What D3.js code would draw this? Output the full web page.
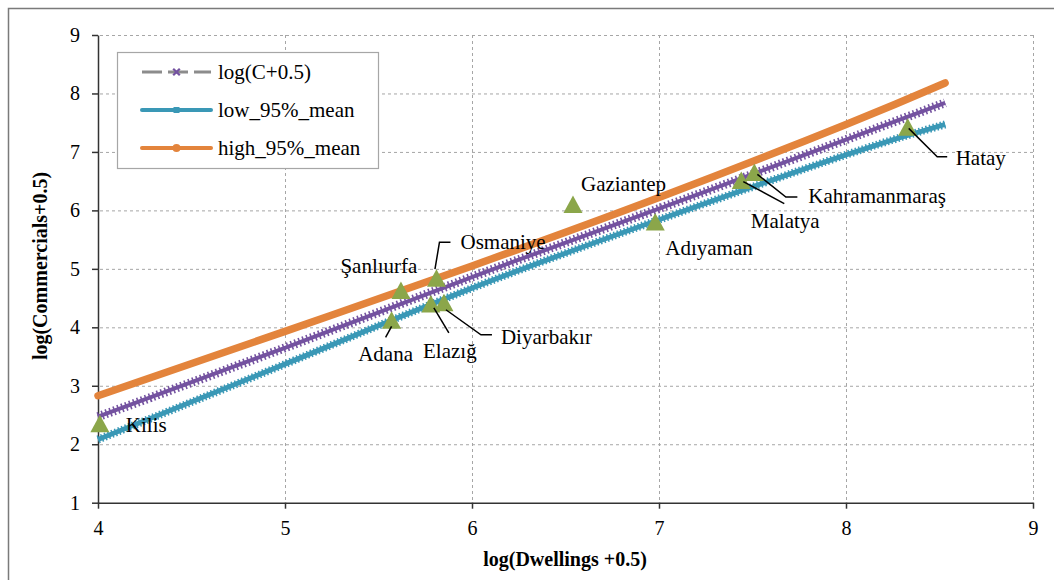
<!DOCTYPE html>
<html>
<head>
<meta charset="utf-8">
<script src="https://cdn.jsdelivr.net/npm/d3@7"></script>
<style>
  body { margin: 0; background: #fff; }
  svg text { font-family: "Liberation Serif", "Times New Roman", serif; fill: #000; }
  .axis path, .axis line { stroke: #333; stroke-width: 1.5; }
  .grid line { stroke: #a6a6a6; stroke-dasharray: 3,3; stroke-width: 1; }
  .grid path { display: none; }
</style>
</head>
<body>
<div id="chart"></div>
<script>
// Data
var cities = ["Kilis", "Adana", "Şanlıurfa", "Osmaniye", "Elazığ", "Diyarbakır",
  "Gaziantep", "Adıyaman", "Malatya", "Kahramanmaraş", "Hatay"];
var dwellings = [4.01, 5.57, 5.62, 5.81, 5.78, 5.85, 6.54, 6.98, 7.44, 7.51, 8.33];
var commercials = [2.35, 4.12, 4.63, 4.84, 4.40, 4.42, 6.10, 5.80, 6.51, 6.65, 7.42];

// fitted line and 95% band of the mean
var fitX = [4, 5, 6, 7, 8, 8.53];
var fitMean = [2.47, 3.65, 4.86, 6.03, 7.21, 7.84];
var fitLow = [2.08, 3.37, 4.67, 5.84, 6.95, 7.47];
var fitHigh = [2.83, 3.93, 5.05, 6.22, 7.47, 8.18];

var xTicks = [4, 5, 6, 7, 8, 9];
var yTicks = [1, 2, 3, 4, 5, 6, 7, 8, 9];

// label placement (pixel offsets from the marker) and leader lines
var labelPos = {
  "Kilis":         {dx: 26, dy: 8, anchor: "start"},
  "Adana":         {dx: -6, dy: 41, anchor: "middle", leader: [[0, 6], [-6, 17]]},
  "Şanlıurfa":     {dx: -22, dy: -17, anchor: "middle"},
  "Osmaniye":      {dx: 24, dy: -29, anchor: "start", leader: [[14, -36], [3, -36], [-1.5, -9]]},
  "Elazığ":        {dx: 19, dy: 54, anchor: "middle", leader: [[3, 4], [18, 29]]},
  "Diyarbakır":    {dx: 57, dy: 41, anchor: "start", leader: [[2, 7], [37, 32], [48, 32]]},
  "Gaziantep":     {dx: 8, dy: -14, anchor: "start"},
  "Adıyaman":      {dx: 10, dy: 33, anchor: "start"},
  "Malatya":       {dx: 44, dy: 47, anchor: "middle", leader: [[2, 1], [43, 23]]},
  "Kahramanmaraş": {dx: 54, dy: 31, anchor: "start", leader: [[3, 2], [31.5, 24.6], [43, 24.6]]},
  "Hatay":         {dx: 48, dy: 38, anchor: "start", leader: [[1, 1], [29.5, 29.3], [39.5, 29.3]]}
};

var serif = "'Liberation Serif', 'Times New Roman', serif";

var svgWidth = 1054;
var svgHeight = 580;

var svg = d3.select("#chart")
  .append("svg")
  .attr("width", svgWidth)
  .attr("height", svgHeight)
  .attr("font-family", serif);

// outer chart border
svg.append("rect")
  .attr("x", 8.5).attr("y", 8.5)
  .attr("width", 1100).attr("height", 700)
  .attr("fill", "none")
  .attr("stroke", "#7a7a7a")
  .attr("stroke-width", 1.5);

var x = d3.scaleLinear().domain([4, 9]).range([98, 1033]);
var y = d3.scaleLinear().domain([1, 9]).range([502.7, 35]);

// gridlines
svg.append("g")
  .attr("class", "grid")
  .attr("transform", "translate(0,35)")
  .call(d3.axisTop(x).tickValues(xTicks.slice(1)).tickSize(-(502.7 - 35)).tickFormat(""));

svg.append("g")
  .attr("class", "grid")
  .attr("transform", "translate(1033,0)")
  .call(d3.axisRight(y).tickValues(yTicks.slice(1)).tickSize(-(1033 - 98)).tickFormat(""));

// axes
svg.append("g")
  .attr("class", "axis")
  .attr("transform", "translate(0,502.7)")
  .call(d3.axisBottom(x).tickValues(xTicks).tickFormat(d3.format("d"))
    .tickSize(6).tickSizeOuter(0).tickPadding(12));

svg.append("g")
  .attr("class", "axis")
  .attr("transform", "translate(98,0)")
  .call(d3.axisLeft(y).tickValues(yTicks).tickFormat(d3.format("d"))
    .tickSize(6).tickSizeOuter(0).tickPadding(12));

svg.selectAll(".axis").attr("font-family", serif).attr("font-size", 20);
svg.selectAll(".axis text").attr("fill", "#000");

// axis titles
svg.append("text")
  .attr("x", 565).attr("y", 566)
  .attr("text-anchor", "middle")
  .attr("font-size", 20)
  .attr("font-weight", "bold")
  .text("log(Dwellings +0.5)");

svg.append("text")
  .attr("transform", "translate(47,266) rotate(-90)")
  .attr("text-anchor", "middle")
  .attr("font-size", 20)
  .attr("font-weight", "bold")
  .text("log(Commercials+0.5)");

// fitted lines
var line = d3.line()
  .x(function(d) { return x(d[0]); })
  .y(function(d) { return y(d[1]); })
  .curve(d3.curveNatural);

function pairs(vals) {
  return fitX.map(function(v, i) { return [v, vals[i]]; });
}

var blue = "#3a98b6", orange = "#e3843c", purple = "#7452a0", green = "#8ba64a";

// low band
svg.append("path").datum(pairs(fitLow)).attr("d", line)
  .attr("fill", "none").attr("stroke", blue).attr("stroke-width", 5);
svg.append("path").datum(pairs(fitLow)).attr("d", line)
  .attr("fill", "none").attr("stroke", blue).attr("stroke-width", 8)
  .attr("stroke-dasharray", "1.5,2.2");

// high band
svg.append("path").datum(pairs(fitHigh)).attr("d", line)
  .attr("fill", "none").attr("stroke", orange).attr("stroke-width", 7.5)
  .attr("stroke-linecap", "round");

// mean
svg.append("path").datum(pairs(fitMean)).attr("d", line)
  .attr("fill", "none").attr("stroke", purple).attr("stroke-width", 4);
svg.append("path").datum(pairs(fitMean)).attr("d", line)
  .attr("fill", "none").attr("stroke", purple).attr("stroke-width", 9)
  .attr("stroke-dasharray", "1.6,2.6");

// observed points
var pts = cities.map(function(c, i) {
  return {name: c, px: x(dwellings[i]), py: y(commercials[i])};
});

svg.selectAll(".tri")
  .data(pts)
  .enter()
  .append("path")
  .attr("class", "tri")
  .attr("transform", function(d) { return "translate(" + d.px + "," + d.py + ")"; })
  .attr("d", "M0,-9L9.5,8.5L-9.5,8.5Z")
  .attr("fill", green);

// leader lines
svg.selectAll(".leader")
  .data(pts.filter(function(d) { return labelPos[d.name].leader; }))
  .enter()
  .append("polyline")
  .attr("class", "leader")
  .attr("points", function(d) {
    return labelPos[d.name].leader.map(function(p) {
      return (d.px + p[0]) + "," + (d.py + p[1]);
    }).join(" ");
  })
  .attr("fill", "none")
  .attr("stroke", "#000")
  .attr("stroke-width", 1.5);

// point labels
svg.selectAll(".lbl")
  .data(pts)
  .enter()
  .append("text")
  .attr("class", "lbl")
  .attr("x", function(d) { return d.px + labelPos[d.name].dx; })
  .attr("y", function(d) { return d.py + labelPos[d.name].dy; })
  .attr("text-anchor", function(d) { return labelPos[d.name].anchor; })
  .attr("font-size", 21)
  .text(function(d) { return d.name; });

// legend
var legend = svg.append("g").attr("transform", "translate(117,52)");
legend.append("rect")
  .attr("x", 0.5).attr("y", 0.5)
  .attr("width", 261).attr("height", 116)
  .attr("fill", "#fff")
  .attr("stroke", "#a6a6a6")
  .attr("stroke-width", 1.2);

var legendNames = ["log(C+0.5)", "low_95%_mean", "high_95%_mean"];

legendNames.forEach(function(name, i) {
  var ly = 20 + i * 38;
  var g = legend.append("g").attr("transform", "translate(0," + ly + ")");
  if (i === 0) {
    g.append("line").attr("x1", 25).attr("x2", 94).attr("y1", 0).attr("y2", 0)
      .attr("stroke", "#8c8c8c").attr("stroke-width", 3)
      .attr("stroke-dasharray", "20,6");
    g.append("path").attr("transform", "translate(59.5,0)")
      .attr("d", d3.symbol().type(d3.symbolX).size(30))
      .attr("stroke", purple).attr("stroke-width", 2.2).attr("fill", "none");
  } else if (i === 1) {
    g.append("line").attr("x1", 25).attr("x2", 94).attr("y1", 0).attr("y2", 0)
      .attr("stroke", blue).attr("stroke-width", 4).attr("stroke-linecap", "round");
    g.append("rect").attr("x", 56.5).attr("y", -3).attr("width", 6).attr("height", 6)
      .attr("fill", blue);
  } else {
    g.append("line").attr("x1", 25).attr("x2", 94).attr("y1", 0).attr("y2", 0)
      .attr("stroke", orange).attr("stroke-width", 4).attr("stroke-linecap", "round");
    g.append("circle").attr("cx", 59.5).attr("cy", 0).attr("r", 4)
      .attr("fill", orange);
  }
  g.append("text")
    .attr("x", 101).attr("y", 7)
    .attr("font-size", 21)
    .text(name);
});
</script>
</body>
</html>
